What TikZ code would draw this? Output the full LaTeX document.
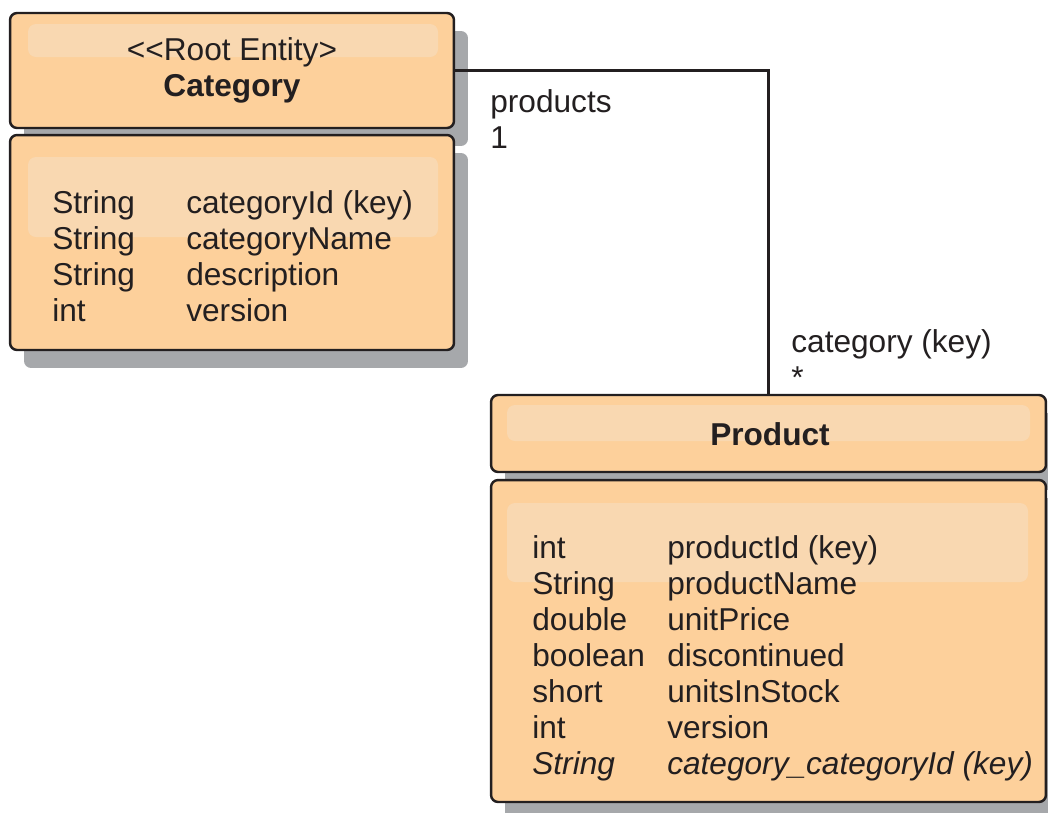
\documentclass[tikz,border=0pt]{standalone}
\usepackage{fontspec}
\newfontfamily\umlfont{Liberation Sans}
\usetikzlibrary{shadows}

\definecolor{umlline}{HTML}{231F20}
\definecolor{boxfill}{HTML}{FDD09B}
\definecolor{glowfill}{HTML}{F9D8B1}
\definecolor{shadowgray}{HTML}{A6A8AB}

\begin{document}
\begin{tikzpicture}[x=0.02cm,y=-0.02cm,font=\umlfont\fontsize{18pt}{20.5pt}\selectfont,color=umlline]
  \tikzset{
    umlbox/.style={
      draw=umlline,
      line width=1.4pt,
      fill=boxfill,
      rounded corners=0.14cm,
      inner sep=0pt,
      drop shadow={shadow xshift=0.28cm,shadow yshift=-0.36cm,fill=shadowgray,opacity=1}
    },
    glow/.style={fill=glowfill,rounded corners=0.16cm},
    attrs/.style={anchor=base west,inner sep=0pt}
  }
  \useasboundingbox (0,0) rectangle (1048,812);

  \node[umlbox,minimum width=8.88cm,minimum height=2.3cm] (cathead) at (232,70.5) {};
  \node[umlbox,minimum width=8.88cm,minimum height=4.3cm] (catbody) at (232,242.5) {};
  \node[umlbox,minimum width=11.1cm,minimum height=1.54cm] (prodhead) at (768.5,433.5) {};
  \node[umlbox,minimum width=11.1cm,minimum height=6.44cm] (prodbody) at (768.5,641) {};

  % lighter bands
  \fill[glow] (28,24) rectangle (438,57);
  \fill[glow] (28,157) rectangle (438,237);
  \fill[glow] (507,405) rectangle (1030,441);
  \fill[glow] (507,503) rectangle (1028,582);

  \node[anchor=base,inner sep=0pt] (cattitle) at (232,60) {\begin{tabular}[t]{@{}c@{}}<<Root Entity>\\\textbf{Category}\end{tabular}};
  \node[anchor=base,inner sep=0pt] (prodtitle) at (770,445) {\textbf{Product}};

  \node[attrs] (catattrs) at (52,213) {\begin{tabular}[t]{@{}p{2.68cm}@{}l@{}}
    String & categoryId (key)\\
    String & categoryName\\
    String & description\\
    int & version
  \end{tabular}};

  \node[attrs] (prodattrs) at (532,558) {\begin{tabular}[t]{@{}p{2.7cm}@{}l@{}}
    int & productId (key)\\
    String & productName\\
    double & unitPrice\\
    boolean & discontinued\\
    short & unitsInStock\\
    int & version\\
    \itshape String & \itshape category\_categoryId (key)
  \end{tabular}};

  \draw[line width=1.4pt] (cathead.east) -| (prodhead.north);
  \node[attrs] (prodrole) at (490,112) {\begin{tabular}[t]{@{}l@{}}products\\1\end{tabular}};
  \node[attrs] (catrole) at (791,352) {\begin{tabular}[t]{@{}l@{}}category (key)\\{}*\end{tabular}};
\end{tikzpicture}
\end{document}
